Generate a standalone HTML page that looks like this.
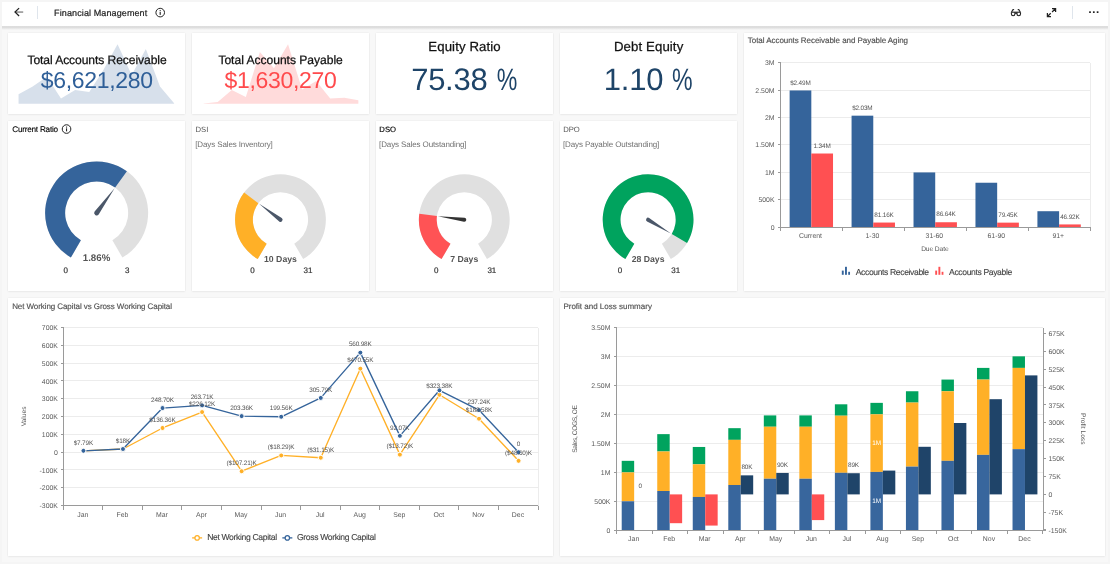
<!DOCTYPE html>
<html lang="en"><head><meta charset="utf-8"><title>Financial Management</title>
<style>
html,body{margin:0;padding:0}
body{width:1110px;height:564px;overflow:hidden;background:#f5f5f5;font-family:"Liberation Sans",Arial,sans-serif;position:relative}
.hdr{position:absolute;left:2px;top:2px;width:1106px;height:24px;background:#fff}
.hsh{position:absolute;left:2px;top:26px;width:1106px;height:4px;background:linear-gradient(#dfdfdf 0,#dcdcdc 30%,#e2e2e2 50%,#f0f0f0 78%,#f8f8f8 100%)}
.hdr svg{position:absolute;left:0;top:0}
.wrap{position:absolute;left:2px;top:2px;width:1106px;height:560px;background:#f8f8f8}
.card{position:absolute;background:#fff;box-shadow:0 0 1.5px rgba(0,0,0,.09),0 1px 2px rgba(0,0,0,.04)}
.card svg{position:absolute;left:0;top:0;overflow:visible}
svg text{font-family:"Liberation Sans",Arial,sans-serif;text-rendering:geometricPrecision}
</style></head>
<body>
<div class="wrap"></div>
<div class="hsh"></div>
<div class="hdr"><svg width="1106" height="24" viewBox="2 2 1106 24"><path d="M23.2 12.05H15.4" fill="none" stroke="#666" stroke-width="1.1"/><path d="M19.1 8.1L15 12.05L19.1 16" fill="none" stroke="#222" stroke-width="1.25"/><line x1="37.5" y1="6.3" x2="37.5" y2="19.2" stroke="#dfe5ec" stroke-width="1" shape-rendering="crispEdges"/><text x="54.1" y="16.1" font-size="9" fill="#222" letter-spacing="0.11" stroke="#222" stroke-width="0.2">Financial Management</text><circle cx="160.2" cy="12.6" r="4.3" fill="none" stroke="#222" stroke-width="1"/><rect x="159.65" y="11.9" width="1.1" height="3" fill="#222"/><rect x="159.65" y="10.1" width="1.1" height="1.05" fill="#222"/><g fill="none" stroke="#222" stroke-width="1.1" stroke-linejoin="round"><path d="M1011.2 12.2H1020.5"/><path d="M1011.4 12.3V14Q1011.4 15.7 1013.1 15.7Q1014.9 15.7 1014.9 14V12.6L1016 13.4L1017 12.6V14Q1017 15.7 1018.8 15.7Q1020.5 15.7 1020.5 14V12.3"/><path d="M1011.6 12L1013 9.5L1014.1 9.8M1020.2 12L1018.8 9.5L1017.7 9.8"/></g><g fill="none" stroke="#222" stroke-width="1.25"><path d="M1052 8.5H1055.6V12.1M1055.3 8.8L1052.1 12M1047.4 12.9V16.5H1051M1047.7 16.2L1050.7 13.2"/></g><line x1="1072.5" y1="6.3" x2="1072.5" y2="19.2" stroke="#dfe5ec" stroke-width="1" shape-rendering="crispEdges"/><rect x="1089.15" y="11.3" width="1.7" height="1.7" fill="#222"/><rect x="1092.95" y="11.3" width="1.7" height="1.7" fill="#222"/><rect x="1096.75" y="11.3" width="1.7" height="1.7" fill="#222"/></svg></div>
<div class="card" id="k1" style="left:7.66px;top:33px;width:177px;height:81.45px"><svg width="177" height="81.45" viewBox="7.66 33 177 81.45"><polygon points="18.2,103.7 18.2,94.3 32.35,86.4 46.49,76.7 60.64,98.5 74.78,90 88.93,92.1 103.07,70 117.22,44.2 131.36,75 145.51,49 159.65,86.4 173.8,103.3 173.8,103.7" fill="#d7e0eb"/><text x="96.66" y="64.4" font-size="12.1" fill="#111" letter-spacing="-0.08" text-anchor="middle" stroke="#111" stroke-width="0.25">Total Accounts Receivable</text><text x="96.45" y="88.1" font-size="23" fill="#2f5f98" letter-spacing="-0.29" text-anchor="middle">$6,621,280</text></svg></div>
<div class="card" id="k2" style="left:191.74px;top:33px;width:177px;height:81.45px"><svg width="177" height="81.45" viewBox="191.74 33 177 81.45"><polygon points="203.4,103.7 203.4,103.6 217.46,102.1 231.53,90 245.59,96.9 259.65,52.1 273.72,68.3 287.78,44.2 301.85,89.5 315.91,81 329.97,98.5 344.04,97.7 358.1,100.3 358.1,103.7" fill="#ffdbdb"/><text x="280.34" y="64.4" font-size="12.1" fill="#111" letter-spacing="-0.03" text-anchor="middle" stroke="#111" stroke-width="0.25">Total Accounts Payable</text><text x="280.19" y="88.1" font-size="23" fill="#ff4a4c" letter-spacing="-0.31" text-anchor="middle">$1,630,270</text></svg></div>
<div class="card" id="k3" style="left:375.82px;top:33px;width:177px;height:81.45px"><svg width="177" height="81.45" viewBox="375.82 33 177 81.45"><text x="464.36" y="51.1" font-size="13.2" fill="#111" letter-spacing="0.11" text-anchor="middle" stroke="#111" stroke-width="0.25">Equity Ratio</text><text x="411" y="90" font-size="31" fill="#1e4468" letter-spacing="-0.28">75.38</text><text x="496.6" y="90" font-size="31" fill="#1e4468" textLength="20.6" lengthAdjust="spacingAndGlyphs">%</text></svg></div>
<div class="card" id="k4" style="left:559.9px;top:33px;width:177px;height:81.45px"><svg width="177" height="81.45" viewBox="559.9 33 177 81.45"><text x="648.56" y="51.1" font-size="13.2" fill="#111" letter-spacing="0.11" text-anchor="middle" stroke="#111" stroke-width="0.25">Debt Equity</text><text x="603.6" y="90" font-size="31" fill="#1e4468" letter-spacing="-0.21">1.10</text><text x="671.8" y="90" font-size="31" fill="#1e4468" textLength="20.6" lengthAdjust="spacingAndGlyphs">%</text></svg></div>
<div class="card" id="g1" style="left:7.66px;top:121.25px;width:177px;height:169.75px"><svg width="177" height="169.75" viewBox="7.66 121.25 177 169.75"><text x="12" y="132.14" font-size="8.2" fill="#000" letter-spacing="-0.25" stroke="#000" stroke-width="0.12">Current Ratio</text><circle cx="66.2" cy="129.3" r="4.3" fill="none" stroke="#222" stroke-width="1"/><rect x="65.65" y="128.6" width="1.1" height="3" fill="#222"/><rect x="65.65" y="126.8" width="1.1" height="1.05" fill="#222"/><path d="M70.55 257.8A51.5 51.5 0 1 1 122.05 257.8L112.05 240.48A31.5 31.5 0 1 0 80.55 240.48Z" fill="#e0e0e0"/><path d="M70.55 257.8A51.5 51.5 0 1 1 126.57 171.54L114.82 187.72A31.5 31.5 0 1 0 80.55 240.48Z" fill="#35649b"/><path d="M114.23 188.52L94.28 211.73A2.5 2.5 0 0 0 98.32 214.67Z" fill="#4b5769"/><text x="96.2" y="261.4" font-size="9.7" fill="#555" text-anchor="middle" font-weight="bold">1.86%</text><text x="65.3" y="272.86" font-size="8" fill="#333" text-anchor="middle" stroke="#333" stroke-width="0.2">0</text><text x="126.9" y="272.86" font-size="8" fill="#333" text-anchor="middle" stroke="#333" stroke-width="0.2">3</text></svg></div>
<div class="card" id="g2" style="left:191.74px;top:121.25px;width:177px;height:169.75px"><svg width="177" height="169.75" viewBox="191.74 121.25 177 169.75"><text x="195.3" y="132.06" font-size="7.7" fill="#555">DSI</text><text x="195" y="146.96" font-size="8" fill="#707070" letter-spacing="-0.12">[Days Sales Inventory]</text><path d="M257.5 259.32A45.4 45.4 0 1 1 302.9 259.32L294 243.9A27.6 27.6 0 1 0 266.4 243.9Z" fill="#e0e0e0"/><path d="M257.5 259.32A45.4 45.4 0 0 1 243.83 192.82L258.09 203.48A27.6 27.6 0 0 0 266.4 243.9Z" fill="#ffb027"/><path d="M258.89 204.08L278.94 221.68A2.1 2.1 0 0 0 281.46 218.32Z" fill="#4b5769"/><text x="280.2" y="262.5" font-size="8.7" fill="#555" text-anchor="middle" font-weight="bold">10 Days</text><text x="252.2" y="273.46" font-size="8" fill="#333" text-anchor="middle" stroke="#333" stroke-width="0.2">0</text><text x="307.8" y="273.46" font-size="8" fill="#333" text-anchor="middle" stroke="#333" stroke-width="0.2">31</text></svg></div>
<div class="card" id="g3" style="left:375.82px;top:121.25px;width:177px;height:169.75px"><svg width="177" height="169.75" viewBox="375.82 121.25 177 169.75"><text x="379.2" y="132.06" font-size="7.7" fill="#000" stroke="#000" stroke-width="0.15">DSO</text><text x="378.9" y="146.96" font-size="8" fill="#707070" letter-spacing="-0.12">[Days Sales Outstanding]</text><path d="M441.4 259.32A45.4 45.4 0 1 1 486.8 259.32L477.9 243.9A27.6 27.6 0 1 0 450.3 243.9Z" fill="#e0e0e0"/><path d="M441.4 259.32A45.4 45.4 0 0 1 419.11 213.88L436.75 216.28A27.6 27.6 0 0 0 450.3 243.9Z" fill="#ff5355"/><path d="M437.74 216.42L463.82 222.08A2.1 2.1 0 0 0 464.38 217.92Z" fill="#333"/><text x="464.1" y="262.5" font-size="8.7" fill="#555" text-anchor="middle" font-weight="bold">7 Days</text><text x="436.1" y="273.46" font-size="8" fill="#333" text-anchor="middle" stroke="#333" stroke-width="0.2">0</text><text x="491.7" y="273.46" font-size="8" fill="#333" text-anchor="middle" stroke="#333" stroke-width="0.2">31</text></svg></div>
<div class="card" id="g4" style="left:559.9px;top:121.25px;width:177px;height:169.75px"><svg width="177" height="169.75" viewBox="559.9 121.25 177 169.75"><text x="563.1" y="132.06" font-size="7.7" fill="#555">DPO</text><text x="562.8" y="146.96" font-size="8" fill="#707070" letter-spacing="-0.11">[Days Payable Outstanding]</text><path d="M625.3 259.32A45.4 45.4 0 1 1 670.7 259.32L661.8 243.9A27.6 27.6 0 1 0 634.2 243.9Z" fill="#e0e0e0"/><path d="M625.3 259.32A45.4 45.4 0 1 1 686.93 243.36L671.67 234.2A27.6 27.6 0 1 0 634.2 243.9Z" fill="#00a35e"/><path d="M670.81 233.69L649.08 218.2A2.1 2.1 0 0 0 646.92 221.8Z" fill="#4b5769"/><text x="648" y="262.5" font-size="8.7" fill="#555" text-anchor="middle" font-weight="bold">28 Days</text><text x="620" y="273.46" font-size="8" fill="#333" text-anchor="middle" stroke="#333" stroke-width="0.2">0</text><text x="675.6" y="273.46" font-size="8" fill="#333" text-anchor="middle" stroke="#333" stroke-width="0.2">31</text></svg></div>
<div class="card" id="c1" style="left:743.98px;top:33px;width:361.02px;height:258px"><svg width="361.02" height="258" viewBox="743.98 33 361.02 258"><text x="747.8" y="43.16" font-size="8" fill="#505050" letter-spacing="-0.05" stroke="#505050" stroke-width="0.15">Total Accounts Receivable and Payable Aging</text><line x1="778" y1="227.5" x2="780.5" y2="227.5" stroke="#9a9a9a" stroke-width="1" shape-rendering="crispEdges"/><text x="774.5" y="229.77" font-size="6.9" fill="#5a5a5a" text-anchor="end">0</text><line x1="780.5" y1="199.5" x2="1090.25" y2="199.5" stroke="#ececec" stroke-width="1" shape-rendering="crispEdges"/><line x1="778" y1="199.5" x2="780.5" y2="199.5" stroke="#9a9a9a" stroke-width="1" shape-rendering="crispEdges"/><text x="774.5" y="202.32" font-size="6.9" fill="#5a5a5a" text-anchor="end">500K</text><line x1="780.5" y1="172.5" x2="1090.25" y2="172.5" stroke="#ececec" stroke-width="1" shape-rendering="crispEdges"/><line x1="778" y1="172.5" x2="780.5" y2="172.5" stroke="#9a9a9a" stroke-width="1" shape-rendering="crispEdges"/><text x="774.5" y="174.87" font-size="6.9" fill="#5a5a5a" text-anchor="end">1M</text><line x1="780.5" y1="144.5" x2="1090.25" y2="144.5" stroke="#ececec" stroke-width="1" shape-rendering="crispEdges"/><line x1="778" y1="144.5" x2="780.5" y2="144.5" stroke="#9a9a9a" stroke-width="1" shape-rendering="crispEdges"/><text x="774.5" y="147.42" font-size="6.9" fill="#5a5a5a" text-anchor="end">1.50M</text><line x1="780.5" y1="117.5" x2="1090.25" y2="117.5" stroke="#ececec" stroke-width="1" shape-rendering="crispEdges"/><line x1="778" y1="117.5" x2="780.5" y2="117.5" stroke="#9a9a9a" stroke-width="1" shape-rendering="crispEdges"/><text x="774.5" y="119.97" font-size="6.9" fill="#5a5a5a" text-anchor="end">2M</text><line x1="780.5" y1="90.5" x2="1090.25" y2="90.5" stroke="#ececec" stroke-width="1" shape-rendering="crispEdges"/><line x1="778" y1="90.5" x2="780.5" y2="90.5" stroke="#9a9a9a" stroke-width="1" shape-rendering="crispEdges"/><text x="774.5" y="92.52" font-size="6.9" fill="#5a5a5a" text-anchor="end">2.50M</text><line x1="780.5" y1="62.5" x2="1090.25" y2="62.5" stroke="#ececec" stroke-width="1" shape-rendering="crispEdges"/><line x1="778" y1="62.5" x2="780.5" y2="62.5" stroke="#9a9a9a" stroke-width="1" shape-rendering="crispEdges"/><text x="774.5" y="65.07" font-size="6.9" fill="#5a5a5a" text-anchor="end">3M</text><line x1="1090.5" y1="62.6" x2="1090.5" y2="227.3" stroke="#ececec" stroke-width="1" shape-rendering="crispEdges"/><rect x="789.6" y="90.45" width="21.7" height="136.55" fill="#35649b"/><text x="800.38" y="84.84" font-size="6.4" fill="#555" letter-spacing="-0.15" text-anchor="middle">$2.49M</text><rect x="811.3" y="153.51" width="21.7" height="73.49" fill="#ff5052"/><text x="822.07" y="147.71" font-size="6.4" fill="#555" letter-spacing="-0.15" text-anchor="middle">1.34M</text><text x="810.48" y="237.77" font-size="6.9" fill="#5a5a5a" text-anchor="middle">Current</text><rect x="851.55" y="115.67" width="21.7" height="111.33" fill="#35649b"/><text x="862.33" y="110.07" font-size="6.4" fill="#555" letter-spacing="-0.15" text-anchor="middle">$2.03M</text><rect x="873.25" y="222.55" width="21.7" height="4.45" fill="#ff5052"/><text x="884.02" y="216.74" font-size="6.4" fill="#555" letter-spacing="-0.15" text-anchor="middle">81.16K</text><text x="872.42" y="237.77" font-size="6.9" fill="#5a5a5a" text-anchor="middle">1-30</text><rect x="913.5" y="172.43" width="21.7" height="54.57" fill="#35649b"/><rect x="935.2" y="222.25" width="21.7" height="4.75" fill="#ff5052"/><text x="945.97" y="216.44" font-size="6.4" fill="#555" letter-spacing="-0.15" text-anchor="middle">86.64K</text><text x="934.38" y="237.77" font-size="6.9" fill="#5a5a5a" text-anchor="middle">31-60</text><rect x="975.45" y="182.74" width="21.7" height="44.26" fill="#35649b"/><rect x="997.15" y="222.64" width="21.7" height="4.36" fill="#ff5052"/><text x="1007.92" y="216.83" font-size="6.4" fill="#555" letter-spacing="-0.15" text-anchor="middle">79.45K</text><text x="996.33" y="237.77" font-size="6.9" fill="#5a5a5a" text-anchor="middle">61-90</text><rect x="1037.4" y="211.21" width="21.7" height="15.79" fill="#35649b"/><rect x="1059.1" y="224.43" width="21.7" height="2.57" fill="#ff5052"/><text x="1069.88" y="218.62" font-size="6.4" fill="#555" letter-spacing="-0.15" text-anchor="middle">46.92K</text><text x="1058.28" y="237.77" font-size="6.9" fill="#5a5a5a" text-anchor="middle">91+</text><line x1="780.5" y1="62.6" x2="780.5" y2="227.3" stroke="#9a9a9a" stroke-width="1" shape-rendering="crispEdges"/><line x1="778" y1="227.5" x2="1090.25" y2="227.5" stroke="#9a9a9a" stroke-width="1" shape-rendering="crispEdges"/><line x1="780.5" y1="227.3" x2="780.5" y2="231" stroke="#9a9a9a" stroke-width="1" shape-rendering="crispEdges"/><line x1="842.5" y1="227.3" x2="842.5" y2="231" stroke="#9a9a9a" stroke-width="1" shape-rendering="crispEdges"/><line x1="904.5" y1="227.3" x2="904.5" y2="231" stroke="#9a9a9a" stroke-width="1" shape-rendering="crispEdges"/><line x1="966.5" y1="227.3" x2="966.5" y2="231" stroke="#9a9a9a" stroke-width="1" shape-rendering="crispEdges"/><line x1="1028.5" y1="227.3" x2="1028.5" y2="231" stroke="#9a9a9a" stroke-width="1" shape-rendering="crispEdges"/><line x1="1090.5" y1="227.3" x2="1090.5" y2="231" stroke="#9a9a9a" stroke-width="1" shape-rendering="crispEdges"/><text x="934.85" y="250.8" font-size="6.7" fill="#5a5a5a" letter-spacing="-0.1" text-anchor="middle">Due Date</text><rect x="841.8" y="270.6" width="1.9" height="4.2" fill="#35649b"/><rect x="845" y="266.8" width="1.9" height="8" fill="#35649b"/><rect x="848.2" y="271.8" width="1.8" height="3" fill="#35649b"/><text x="855.7" y="274.68" font-size="8.6" fill="#444" letter-spacing="-0.38" stroke="#444" stroke-width="0.12">Accounts Receivable</text><rect x="935.2" y="270.6" width="1.9" height="4.2" fill="#ff5052"/><rect x="938.4" y="266.8" width="1.9" height="8" fill="#ff5052"/><rect x="941.6" y="271.8" width="1.8" height="3" fill="#ff5052"/><text x="949" y="274.68" font-size="8.6" fill="#444" letter-spacing="-0.37" stroke="#444" stroke-width="0.12">Accounts Payable</text></svg></div>
<div class="card" id="c2" style="left:7.66px;top:297.8px;width:545.14px;height:258.2px"><svg width="545.14" height="258.2" viewBox="7.66 297.8 545.14 258.2"><text x="11.8" y="308.56" font-size="8" fill="#505050" letter-spacing="-0.08" stroke="#505050" stroke-width="0.15">Net Working Capital vs Gross Working Capital</text><line x1="60.8" y1="505.5" x2="63.3" y2="505.5" stroke="#9a9a9a" stroke-width="1" shape-rendering="crispEdges"/><text x="57.6" y="507.97" font-size="6.9" fill="#5a5a5a" text-anchor="end">-300K</text><line x1="63.3" y1="487.5" x2="538.02" y2="487.5" stroke="#ececec" stroke-width="1" shape-rendering="crispEdges"/><line x1="60.8" y1="487.5" x2="63.3" y2="487.5" stroke="#9a9a9a" stroke-width="1" shape-rendering="crispEdges"/><text x="57.6" y="490.17" font-size="6.9" fill="#5a5a5a" text-anchor="end">-200K</text><line x1="63.3" y1="469.5" x2="538.02" y2="469.5" stroke="#ececec" stroke-width="1" shape-rendering="crispEdges"/><line x1="60.8" y1="469.5" x2="63.3" y2="469.5" stroke="#9a9a9a" stroke-width="1" shape-rendering="crispEdges"/><text x="57.6" y="472.37" font-size="6.9" fill="#5a5a5a" text-anchor="end">-100K</text><line x1="63.3" y1="452.5" x2="538.02" y2="452.5" stroke="#ececec" stroke-width="1" shape-rendering="crispEdges"/><line x1="60.8" y1="452.5" x2="63.3" y2="452.5" stroke="#9a9a9a" stroke-width="1" shape-rendering="crispEdges"/><text x="57.6" y="454.57" font-size="6.9" fill="#5a5a5a" text-anchor="end">0</text><line x1="63.3" y1="434.5" x2="538.02" y2="434.5" stroke="#ececec" stroke-width="1" shape-rendering="crispEdges"/><line x1="60.8" y1="434.5" x2="63.3" y2="434.5" stroke="#9a9a9a" stroke-width="1" shape-rendering="crispEdges"/><text x="57.6" y="436.77" font-size="6.9" fill="#5a5a5a" text-anchor="end">100K</text><line x1="63.3" y1="416.5" x2="538.02" y2="416.5" stroke="#ececec" stroke-width="1" shape-rendering="crispEdges"/><line x1="60.8" y1="416.5" x2="63.3" y2="416.5" stroke="#9a9a9a" stroke-width="1" shape-rendering="crispEdges"/><text x="57.6" y="418.97" font-size="6.9" fill="#5a5a5a" text-anchor="end">200K</text><line x1="63.3" y1="398.5" x2="538.02" y2="398.5" stroke="#ececec" stroke-width="1" shape-rendering="crispEdges"/><line x1="60.8" y1="398.5" x2="63.3" y2="398.5" stroke="#9a9a9a" stroke-width="1" shape-rendering="crispEdges"/><text x="57.6" y="401.17" font-size="6.9" fill="#5a5a5a" text-anchor="end">300K</text><line x1="63.3" y1="380.5" x2="538.02" y2="380.5" stroke="#ececec" stroke-width="1" shape-rendering="crispEdges"/><line x1="60.8" y1="380.5" x2="63.3" y2="380.5" stroke="#9a9a9a" stroke-width="1" shape-rendering="crispEdges"/><text x="57.6" y="383.37" font-size="6.9" fill="#5a5a5a" text-anchor="end">400K</text><line x1="63.3" y1="363.5" x2="538.02" y2="363.5" stroke="#ececec" stroke-width="1" shape-rendering="crispEdges"/><line x1="60.8" y1="363.5" x2="63.3" y2="363.5" stroke="#9a9a9a" stroke-width="1" shape-rendering="crispEdges"/><text x="57.6" y="365.57" font-size="6.9" fill="#5a5a5a" text-anchor="end">500K</text><line x1="63.3" y1="345.5" x2="538.02" y2="345.5" stroke="#ececec" stroke-width="1" shape-rendering="crispEdges"/><line x1="60.8" y1="345.5" x2="63.3" y2="345.5" stroke="#9a9a9a" stroke-width="1" shape-rendering="crispEdges"/><text x="57.6" y="347.77" font-size="6.9" fill="#5a5a5a" text-anchor="end">600K</text><line x1="63.3" y1="327.5" x2="538.02" y2="327.5" stroke="#ececec" stroke-width="1" shape-rendering="crispEdges"/><line x1="60.8" y1="327.5" x2="63.3" y2="327.5" stroke="#9a9a9a" stroke-width="1" shape-rendering="crispEdges"/><text x="57.6" y="329.97" font-size="6.9" fill="#5a5a5a" text-anchor="end">700K</text><line x1="538.5" y1="327.5" x2="538.5" y2="505.5" stroke="#ececec" stroke-width="1" shape-rendering="crispEdges"/><line x1="63.5" y1="327.5" x2="63.5" y2="505.5" stroke="#9a9a9a" stroke-width="1" shape-rendering="crispEdges"/><line x1="60.8" y1="505.5" x2="538.02" y2="505.5" stroke="#9a9a9a" stroke-width="1" shape-rendering="crispEdges"/><line x1="63.5" y1="505.5" x2="63.5" y2="509.5" stroke="#9a9a9a" stroke-width="1" shape-rendering="crispEdges"/><line x1="102.5" y1="505.5" x2="102.5" y2="509.5" stroke="#9a9a9a" stroke-width="1" shape-rendering="crispEdges"/><line x1="142.5" y1="505.5" x2="142.5" y2="509.5" stroke="#9a9a9a" stroke-width="1" shape-rendering="crispEdges"/><line x1="181.5" y1="505.5" x2="181.5" y2="509.5" stroke="#9a9a9a" stroke-width="1" shape-rendering="crispEdges"/><line x1="221.5" y1="505.5" x2="221.5" y2="509.5" stroke="#9a9a9a" stroke-width="1" shape-rendering="crispEdges"/><line x1="261.5" y1="505.5" x2="261.5" y2="509.5" stroke="#9a9a9a" stroke-width="1" shape-rendering="crispEdges"/><line x1="300.5" y1="505.5" x2="300.5" y2="509.5" stroke="#9a9a9a" stroke-width="1" shape-rendering="crispEdges"/><line x1="340.5" y1="505.5" x2="340.5" y2="509.5" stroke="#9a9a9a" stroke-width="1" shape-rendering="crispEdges"/><line x1="379.5" y1="505.5" x2="379.5" y2="509.5" stroke="#9a9a9a" stroke-width="1" shape-rendering="crispEdges"/><line x1="419.5" y1="505.5" x2="419.5" y2="509.5" stroke="#9a9a9a" stroke-width="1" shape-rendering="crispEdges"/><line x1="458.5" y1="505.5" x2="458.5" y2="509.5" stroke="#9a9a9a" stroke-width="1" shape-rendering="crispEdges"/><line x1="498.5" y1="505.5" x2="498.5" y2="509.5" stroke="#9a9a9a" stroke-width="1" shape-rendering="crispEdges"/><line x1="538.5" y1="505.5" x2="538.5" y2="509.5" stroke="#9a9a9a" stroke-width="1" shape-rendering="crispEdges"/><text x="82.48" y="516.67" font-size="6.9" fill="#5a5a5a" text-anchor="middle">Jan</text><text x="122.04" y="516.67" font-size="6.9" fill="#5a5a5a" text-anchor="middle">Feb</text><text x="161.6" y="516.67" font-size="6.9" fill="#5a5a5a" text-anchor="middle">Mar</text><text x="201.16" y="516.67" font-size="6.9" fill="#5a5a5a" text-anchor="middle">Apr</text><text x="240.72" y="516.67" font-size="6.9" fill="#5a5a5a" text-anchor="middle">May</text><text x="280.28" y="516.67" font-size="6.9" fill="#5a5a5a" text-anchor="middle">Jun</text><text x="319.84" y="516.67" font-size="6.9" fill="#5a5a5a" text-anchor="middle">Jul</text><text x="359.4" y="516.67" font-size="6.9" fill="#5a5a5a" text-anchor="middle">Aug</text><text x="398.96" y="516.67" font-size="6.9" fill="#5a5a5a" text-anchor="middle">Sep</text><text x="438.52" y="516.67" font-size="6.9" fill="#5a5a5a" text-anchor="middle">Oct</text><text x="478.08" y="516.67" font-size="6.9" fill="#5a5a5a" text-anchor="middle">Nov</text><text x="517.64" y="516.67" font-size="6.9" fill="#5a5a5a" text-anchor="middle">Dec</text><text font-size="6.7" fill="#5a5a5a" text-anchor="middle" letter-spacing="-0.01" transform="translate(23.1 416.2) rotate(-90)"><tspan x="-0.01" y="2.4">Values</tspan></text><polyline points="83.08,450.62 122.64,448.81 162.2,427.8 201.76,411.86 241.32,471.03 280.88,455.25 320.44,457.53 360,368.48 399.56,454.44 439.12,394.6 478.68,418.53 518.24,460.63" fill="none" stroke="#ffb027" stroke-width="1.35" stroke-linejoin="round"/><circle cx="83.08" cy="450.62" r="2.5" fill="#ffb027" stroke="#fff" stroke-width="1"/><circle cx="122.64" cy="448.81" r="2.5" fill="#ffb027" stroke="#fff" stroke-width="1"/><circle cx="162.2" cy="427.8" r="2.5" fill="#ffb027" stroke="#fff" stroke-width="1"/><circle cx="201.76" cy="411.86" r="2.5" fill="#ffb027" stroke="#fff" stroke-width="1"/><circle cx="241.32" cy="471.03" r="2.5" fill="#ffb027" stroke="#fff" stroke-width="1"/><circle cx="280.88" cy="455.25" r="2.5" fill="#ffb027" stroke="#fff" stroke-width="1"/><circle cx="320.44" cy="457.53" r="2.5" fill="#ffb027" stroke="#fff" stroke-width="1"/><circle cx="360" cy="368.48" r="2.5" fill="#ffb027" stroke="#fff" stroke-width="1"/><circle cx="399.56" cy="454.44" r="2.5" fill="#ffb027" stroke="#fff" stroke-width="1"/><circle cx="439.12" cy="394.6" r="2.5" fill="#ffb027" stroke="#fff" stroke-width="1"/><circle cx="478.68" cy="418.53" r="2.5" fill="#ffb027" stroke="#fff" stroke-width="1"/><circle cx="518.24" cy="460.63" r="2.5" fill="#ffb027" stroke="#fff" stroke-width="1"/><polyline points="83.08,450.62 122.64,448.81 162.2,407.86 201.76,405.19 241.32,415.9 280.88,416.58 320.44,397.72 360,352.43 399.56,435.66 439.12,390.12 478.68,409.89 518.24,452" fill="none" stroke="#35649b" stroke-width="1.35" stroke-linejoin="round"/><circle cx="83.08" cy="450.62" r="2.5" fill="#35649b" stroke="#fff" stroke-width="1"/><circle cx="122.64" cy="448.81" r="2.5" fill="#35649b" stroke="#fff" stroke-width="1"/><circle cx="162.2" cy="407.86" r="2.5" fill="#35649b" stroke="#fff" stroke-width="1"/><circle cx="201.76" cy="405.19" r="2.5" fill="#35649b" stroke="#fff" stroke-width="1"/><circle cx="241.32" cy="415.9" r="2.5" fill="#35649b" stroke="#fff" stroke-width="1"/><circle cx="280.88" cy="416.58" r="2.5" fill="#35649b" stroke="#fff" stroke-width="1"/><circle cx="320.44" cy="397.72" r="2.5" fill="#35649b" stroke="#fff" stroke-width="1"/><circle cx="360" cy="352.43" r="2.5" fill="#35649b" stroke="#fff" stroke-width="1"/><circle cx="399.56" cy="435.66" r="2.5" fill="#35649b" stroke="#fff" stroke-width="1"/><circle cx="439.12" cy="390.12" r="2.5" fill="#35649b" stroke="#fff" stroke-width="1"/><circle cx="478.68" cy="409.89" r="2.5" fill="#35649b" stroke="#fff" stroke-width="1"/><circle cx="518.24" cy="452" r="2.5" fill="#35649b" stroke="#fff" stroke-width="1"/><text x="162.12" y="421.52" font-size="6.4" fill="#555" letter-spacing="-0.15" text-anchor="middle">$136.36K</text><text x="201.69" y="405.54" font-size="6.4" fill="#555" letter-spacing="-0.15" text-anchor="middle">$226.12K</text><text x="241.25" y="464.87" font-size="6.4" fill="#555" letter-spacing="-0.15" text-anchor="middle">($107.21)K</text><text x="280.81" y="449.05" font-size="6.4" fill="#555" letter-spacing="-0.15" text-anchor="middle">($18.29)K</text><text x="320.37" y="451.34" font-size="6.4" fill="#555" letter-spacing="-0.15" text-anchor="middle">($31.15)K</text><text x="359.93" y="362.03" font-size="6.4" fill="#555" letter-spacing="-0.15" text-anchor="middle">$470.55K</text><text x="399.49" y="448.23" font-size="6.4" fill="#555" letter-spacing="-0.15" text-anchor="middle">($13.72)K</text><text x="439.05" y="388.23" font-size="6.4" fill="#555" letter-spacing="-0.15" text-anchor="middle">$323.38K</text><text x="478.61" y="412.22" font-size="6.4" fill="#555" letter-spacing="-0.15" text-anchor="middle">$188.58K</text><text x="518.16" y="454.44" font-size="6.4" fill="#555" letter-spacing="-0.15" text-anchor="middle">($48.60)K</text><text x="83" y="444.4" font-size="6.4" fill="#555" letter-spacing="-0.15" text-anchor="middle">$7.79K</text><text x="122.56" y="442.59" font-size="6.4" fill="#555" letter-spacing="-0.15" text-anchor="middle">$18K</text><text x="162.12" y="401.52" font-size="6.4" fill="#555" letter-spacing="-0.15" text-anchor="middle">248.70K</text><text x="201.69" y="398.85" font-size="6.4" fill="#555" letter-spacing="-0.15" text-anchor="middle">263.71K</text><text x="241.25" y="409.59" font-size="6.4" fill="#555" letter-spacing="-0.15" text-anchor="middle">203.36K</text><text x="280.81" y="410.27" font-size="6.4" fill="#555" letter-spacing="-0.15" text-anchor="middle">199.56K</text><text x="320.37" y="391.36" font-size="6.4" fill="#555" letter-spacing="-0.15" text-anchor="middle">305.79K</text><text x="359.93" y="345.94" font-size="6.4" fill="#555" letter-spacing="-0.15" text-anchor="middle">560.98K</text><text x="399.49" y="429.4" font-size="6.4" fill="#555" letter-spacing="-0.15" text-anchor="middle">92.07K</text><text x="478.61" y="403.56" font-size="6.4" fill="#555" letter-spacing="-0.15" text-anchor="middle">237.24K</text><text x="518.16" y="445.79" font-size="6.4" fill="#555" letter-spacing="-0.15" text-anchor="middle">0</text><line x1="191.8" y1="537.7" x2="201.8" y2="537.7" stroke="#ffb027" stroke-width="1.3"/><circle cx="196.8" cy="537.7" r="2.2" fill="#fff" stroke="#ffb027" stroke-width="1.2"/><text x="206.8" y="540.28" font-size="8.6" fill="#444" letter-spacing="-0.35" stroke="#444" stroke-width="0.12">Net Working Capital</text><line x1="282" y1="537.7" x2="292" y2="537.7" stroke="#35649b" stroke-width="1.3"/><circle cx="287" cy="537.7" r="2.2" fill="#fff" stroke="#35649b" stroke-width="1.2"/><text x="296.6" y="540.28" font-size="8.6" fill="#444" letter-spacing="-0.34" stroke="#444" stroke-width="0.12">Gross Working Capital</text></svg></div>
<div class="card" id="c3" style="left:559.9px;top:297.8px;width:545.1px;height:258.2px"><svg width="545.1" height="258.2" viewBox="559.9 297.8 545.1 258.2"><text x="563.3" y="308.56" font-size="8" fill="#505050" letter-spacing="0" stroke="#505050" stroke-width="0.15">Profit and Loss summary</text><line x1="614.1" y1="530.5" x2="616.6" y2="530.5" stroke="#9a9a9a" stroke-width="1" shape-rendering="crispEdges"/><text x="610.3" y="532.87" font-size="6.9" fill="#5a5a5a" text-anchor="end">0</text><line x1="616.6" y1="501.5" x2="1043.2" y2="501.5" stroke="#ececec" stroke-width="1" shape-rendering="crispEdges"/><line x1="614.1" y1="501.5" x2="616.6" y2="501.5" stroke="#9a9a9a" stroke-width="1" shape-rendering="crispEdges"/><text x="610.3" y="503.9" font-size="6.9" fill="#5a5a5a" text-anchor="end">500K</text><line x1="616.6" y1="472.5" x2="1043.2" y2="472.5" stroke="#ececec" stroke-width="1" shape-rendering="crispEdges"/><line x1="614.1" y1="472.5" x2="616.6" y2="472.5" stroke="#9a9a9a" stroke-width="1" shape-rendering="crispEdges"/><text x="610.3" y="474.93" font-size="6.9" fill="#5a5a5a" text-anchor="end">1M</text><line x1="616.6" y1="443.5" x2="1043.2" y2="443.5" stroke="#ececec" stroke-width="1" shape-rendering="crispEdges"/><line x1="614.1" y1="443.5" x2="616.6" y2="443.5" stroke="#9a9a9a" stroke-width="1" shape-rendering="crispEdges"/><text x="610.3" y="445.96" font-size="6.9" fill="#5a5a5a" text-anchor="end">1.50M</text><line x1="616.6" y1="414.5" x2="1043.2" y2="414.5" stroke="#ececec" stroke-width="1" shape-rendering="crispEdges"/><line x1="614.1" y1="414.5" x2="616.6" y2="414.5" stroke="#9a9a9a" stroke-width="1" shape-rendering="crispEdges"/><text x="610.3" y="416.99" font-size="6.9" fill="#5a5a5a" text-anchor="end">2M</text><line x1="616.6" y1="385.5" x2="1043.2" y2="385.5" stroke="#ececec" stroke-width="1" shape-rendering="crispEdges"/><line x1="614.1" y1="385.5" x2="616.6" y2="385.5" stroke="#9a9a9a" stroke-width="1" shape-rendering="crispEdges"/><text x="610.3" y="388.02" font-size="6.9" fill="#5a5a5a" text-anchor="end">2.50M</text><line x1="616.6" y1="356.5" x2="1043.2" y2="356.5" stroke="#ececec" stroke-width="1" shape-rendering="crispEdges"/><line x1="614.1" y1="356.5" x2="616.6" y2="356.5" stroke="#9a9a9a" stroke-width="1" shape-rendering="crispEdges"/><text x="610.3" y="359.05" font-size="6.9" fill="#5a5a5a" text-anchor="end">3M</text><line x1="616.6" y1="327.5" x2="1043.2" y2="327.5" stroke="#ececec" stroke-width="1" shape-rendering="crispEdges"/><line x1="614.1" y1="327.5" x2="616.6" y2="327.5" stroke="#9a9a9a" stroke-width="1" shape-rendering="crispEdges"/><text x="610.3" y="330.08" font-size="6.9" fill="#5a5a5a" text-anchor="end">3.50M</text><line x1="1043.2" y1="529.5" x2="1045.7" y2="529.5" stroke="#9a9a9a" stroke-width="1" shape-rendering="crispEdges"/><text x="1048.4" y="532.37" font-size="6.9" fill="#5a5a5a">-150K</text><line x1="1043.2" y1="512.5" x2="1045.7" y2="512.5" stroke="#9a9a9a" stroke-width="1" shape-rendering="crispEdges"/><text x="1048.4" y="514.52" font-size="6.9" fill="#5a5a5a">-75K</text><line x1="1043.2" y1="494.5" x2="1045.7" y2="494.5" stroke="#9a9a9a" stroke-width="1" shape-rendering="crispEdges"/><text x="1048.4" y="496.67" font-size="6.9" fill="#5a5a5a">0</text><line x1="1043.2" y1="476.5" x2="1045.7" y2="476.5" stroke="#9a9a9a" stroke-width="1" shape-rendering="crispEdges"/><text x="1048.4" y="478.82" font-size="6.9" fill="#5a5a5a">75K</text><line x1="1043.2" y1="458.5" x2="1045.7" y2="458.5" stroke="#9a9a9a" stroke-width="1" shape-rendering="crispEdges"/><text x="1048.4" y="460.97" font-size="6.9" fill="#5a5a5a">150K</text><line x1="1043.2" y1="440.5" x2="1045.7" y2="440.5" stroke="#9a9a9a" stroke-width="1" shape-rendering="crispEdges"/><text x="1048.4" y="443.12" font-size="6.9" fill="#5a5a5a">225K</text><line x1="1043.2" y1="422.5" x2="1045.7" y2="422.5" stroke="#9a9a9a" stroke-width="1" shape-rendering="crispEdges"/><text x="1048.4" y="425.27" font-size="6.9" fill="#5a5a5a">300K</text><line x1="1043.2" y1="404.5" x2="1045.7" y2="404.5" stroke="#9a9a9a" stroke-width="1" shape-rendering="crispEdges"/><text x="1048.4" y="407.42" font-size="6.9" fill="#5a5a5a">375K</text><line x1="1043.2" y1="387.5" x2="1045.7" y2="387.5" stroke="#9a9a9a" stroke-width="1" shape-rendering="crispEdges"/><text x="1048.4" y="389.57" font-size="6.9" fill="#5a5a5a">450K</text><line x1="1043.2" y1="369.5" x2="1045.7" y2="369.5" stroke="#9a9a9a" stroke-width="1" shape-rendering="crispEdges"/><text x="1048.4" y="371.72" font-size="6.9" fill="#5a5a5a">525K</text><line x1="1043.2" y1="351.5" x2="1045.7" y2="351.5" stroke="#9a9a9a" stroke-width="1" shape-rendering="crispEdges"/><text x="1048.4" y="353.87" font-size="6.9" fill="#5a5a5a">600K</text><line x1="1043.2" y1="333.5" x2="1045.7" y2="333.5" stroke="#9a9a9a" stroke-width="1" shape-rendering="crispEdges"/><text x="1048.4" y="336.02" font-size="6.9" fill="#5a5a5a">675K</text><rect x="621.6" y="460.64" width="12.45" height="11.56" fill="#00a35e"/><rect x="621.6" y="472.2" width="12.45" height="28.9" fill="#ffb027"/><rect x="621.6" y="501.1" width="12.45" height="28.9" fill="#38669d"/><text x="640.2" y="487.79" font-size="6.4" fill="#555" letter-spacing="-0.15" text-anchor="middle">0</text><text x="633.57" y="540.57" font-size="6.9" fill="#5a5a5a" text-anchor="middle">Jan</text><rect x="657.13" y="433.94" width="12.45" height="17.34" fill="#00a35e"/><rect x="657.13" y="451.28" width="12.45" height="39.54" fill="#ffb027"/><rect x="657.13" y="490.81" width="12.45" height="39.19" fill="#38669d"/><rect x="669.58" y="494.2" width="12.45" height="28.8" fill="#ff5052"/><text x="669.1" y="540.57" font-size="6.9" fill="#5a5a5a" text-anchor="middle">Feb</text><rect x="692.66" y="446.77" width="12.45" height="17.34" fill="#00a35e"/><rect x="692.66" y="464.11" width="12.45" height="32.66" fill="#ffb027"/><rect x="692.66" y="496.76" width="12.45" height="33.23" fill="#38669d"/><rect x="705.11" y="494.2" width="12.45" height="31.18" fill="#ff5052"/><text x="704.63" y="540.57" font-size="6.9" fill="#5a5a5a" text-anchor="middle">Mar</text><rect x="728.19" y="427.98" width="12.45" height="11.68" fill="#00a35e"/><rect x="728.19" y="439.66" width="12.45" height="45.14" fill="#ffb027"/><rect x="728.19" y="484.8" width="12.45" height="45.2" fill="#38669d"/><rect x="740.64" y="475.16" width="12.45" height="19.04" fill="#1f4469"/><text x="746.79" y="468.75" font-size="6.4" fill="#555" letter-spacing="-0.15" text-anchor="middle">80K</text><text x="740.16" y="540.57" font-size="6.9" fill="#5a5a5a" text-anchor="middle">Apr</text><rect x="763.72" y="415.21" width="12.45" height="11.33" fill="#00a35e"/><rect x="763.72" y="426.54" width="12.45" height="52.02" fill="#ffb027"/><rect x="763.72" y="478.56" width="12.45" height="51.44" fill="#38669d"/><rect x="776.17" y="472.78" width="12.45" height="21.42" fill="#1f4469"/><text x="782.32" y="466.37" font-size="6.4" fill="#555" letter-spacing="-0.15" text-anchor="middle">90K</text><text x="775.69" y="540.57" font-size="6.9" fill="#5a5a5a" text-anchor="middle">May</text><rect x="799.25" y="415.21" width="12.45" height="11.33" fill="#00a35e"/><rect x="799.25" y="426.54" width="12.45" height="52.02" fill="#ffb027"/><rect x="799.25" y="478.56" width="12.45" height="51.44" fill="#38669d"/><rect x="811.7" y="494.2" width="12.45" height="25.7" fill="#ff5052"/><text x="811.22" y="540.57" font-size="6.9" fill="#5a5a5a" text-anchor="middle">Jun</text><rect x="834.78" y="404.11" width="12.45" height="11.39" fill="#00a35e"/><rect x="834.78" y="415.5" width="12.45" height="57.11" fill="#ffb027"/><rect x="834.78" y="472.6" width="12.45" height="57.4" fill="#38669d"/><rect x="847.23" y="473.02" width="12.45" height="21.18" fill="#1f4469"/><text x="853.38" y="466.61" font-size="6.4" fill="#555" letter-spacing="-0.15" text-anchor="middle">89K</text><text x="846.75" y="540.57" font-size="6.9" fill="#5a5a5a" text-anchor="middle">Jul</text><rect x="870.31" y="402.67" width="12.45" height="11.44" fill="#00a35e"/><rect x="870.31" y="414.11" width="12.45" height="57.63" fill="#ffb027"/><rect x="870.31" y="471.74" width="12.45" height="58.26" fill="#38669d"/><rect x="882.76" y="470.4" width="12.45" height="23.8" fill="#1f4469"/><text x="882.28" y="540.57" font-size="6.9" fill="#5a5a5a" text-anchor="middle">Aug</text><rect x="905.84" y="391.05" width="12.45" height="11.33" fill="#00a35e"/><rect x="905.84" y="402.38" width="12.45" height="64.04" fill="#ffb027"/><rect x="905.84" y="466.42" width="12.45" height="63.58" fill="#38669d"/><rect x="918.29" y="446.6" width="12.45" height="47.6" fill="#1f4469"/><text x="917.81" y="540.57" font-size="6.9" fill="#5a5a5a" text-anchor="middle">Sep</text><rect x="941.37" y="379.37" width="12.45" height="11.68" fill="#00a35e"/><rect x="941.37" y="391.05" width="12.45" height="69.59" fill="#ffb027"/><rect x="941.37" y="460.64" width="12.45" height="69.36" fill="#38669d"/><rect x="953.82" y="422.8" width="12.45" height="71.4" fill="#1f4469"/><text x="953.34" y="540.57" font-size="6.9" fill="#5a5a5a" text-anchor="middle">Oct</text><rect x="976.9" y="367.7" width="12.45" height="11.68" fill="#00a35e"/><rect x="976.9" y="379.37" width="12.45" height="75.31" fill="#ffb027"/><rect x="976.9" y="454.69" width="12.45" height="75.31" fill="#38669d"/><rect x="989.35" y="399" width="12.45" height="95.2" fill="#1f4469"/><text x="988.87" y="540.57" font-size="6.9" fill="#5a5a5a" text-anchor="middle">Nov</text><rect x="1012.43" y="356.14" width="12.45" height="11.56" fill="#00a35e"/><rect x="1012.43" y="367.7" width="12.45" height="81.27" fill="#ffb027"/><rect x="1012.43" y="448.96" width="12.45" height="81.04" fill="#38669d"/><rect x="1024.88" y="375.2" width="12.45" height="119" fill="#1f4469"/><text x="1024.4" y="540.57" font-size="6.9" fill="#5a5a5a" text-anchor="middle">Dec</text><text x="876.51" y="445.29" font-size="6.4" fill="#fff" text-anchor="middle">1M</text><text x="876.51" y="503.09" font-size="6.4" fill="#fff" text-anchor="middle">1M</text><line x1="616.6" y1="327.5" x2="1043.2" y2="327.5" stroke="#ececec" stroke-width="1" shape-rendering="crispEdges"/><line x1="616.5" y1="327.61" x2="616.5" y2="530.4" stroke="#9a9a9a" stroke-width="1" shape-rendering="crispEdges"/><line x1="1043.5" y1="327.61" x2="1043.5" y2="530.4" stroke="#9a9a9a" stroke-width="1" shape-rendering="crispEdges"/><line x1="614.1" y1="530.5" x2="1045.7" y2="530.5" stroke="#9a9a9a" stroke-width="1" shape-rendering="crispEdges"/><line x1="616.5" y1="530.4" x2="616.5" y2="533.9" stroke="#9a9a9a" stroke-width="1" shape-rendering="crispEdges"/><line x1="652.5" y1="530.4" x2="652.5" y2="533.9" stroke="#9a9a9a" stroke-width="1" shape-rendering="crispEdges"/><line x1="687.5" y1="530.4" x2="687.5" y2="533.9" stroke="#9a9a9a" stroke-width="1" shape-rendering="crispEdges"/><line x1="723.5" y1="530.4" x2="723.5" y2="533.9" stroke="#9a9a9a" stroke-width="1" shape-rendering="crispEdges"/><line x1="758.5" y1="530.4" x2="758.5" y2="533.9" stroke="#9a9a9a" stroke-width="1" shape-rendering="crispEdges"/><line x1="794.5" y1="530.4" x2="794.5" y2="533.9" stroke="#9a9a9a" stroke-width="1" shape-rendering="crispEdges"/><line x1="829.5" y1="530.4" x2="829.5" y2="533.9" stroke="#9a9a9a" stroke-width="1" shape-rendering="crispEdges"/><line x1="865.5" y1="530.4" x2="865.5" y2="533.9" stroke="#9a9a9a" stroke-width="1" shape-rendering="crispEdges"/><line x1="900.5" y1="530.4" x2="900.5" y2="533.9" stroke="#9a9a9a" stroke-width="1" shape-rendering="crispEdges"/><line x1="936.5" y1="530.4" x2="936.5" y2="533.9" stroke="#9a9a9a" stroke-width="1" shape-rendering="crispEdges"/><line x1="971.5" y1="530.4" x2="971.5" y2="533.9" stroke="#9a9a9a" stroke-width="1" shape-rendering="crispEdges"/><line x1="1007.5" y1="530.4" x2="1007.5" y2="533.9" stroke="#9a9a9a" stroke-width="1" shape-rendering="crispEdges"/><line x1="1042.5" y1="530.4" x2="1042.5" y2="533.9" stroke="#9a9a9a" stroke-width="1" shape-rendering="crispEdges"/><text font-size="6.7" fill="#5a5a5a" text-anchor="middle" letter-spacing="-0.4" transform="translate(574.7 428.7) rotate(-90)"><tspan x="-0.2" y="2.4">Sales, COGS, OE</tspan></text><text font-size="6.7" fill="#5a5a5a" text-anchor="middle" letter-spacing="-0.02" transform="translate(1083.2 428.6) rotate(90)"><tspan x="-0.01" y="2.4">Profit Loss</tspan></text></svg></div>
</body></html>
